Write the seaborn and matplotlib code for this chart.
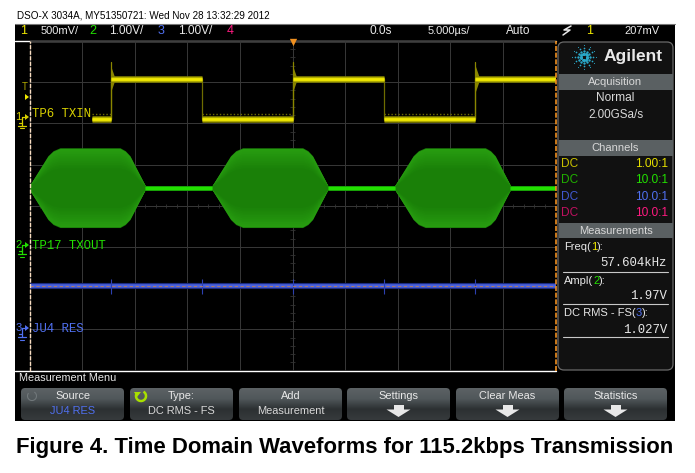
import numpy as np
import pandas as pd
import matplotlib
matplotlib.use("Agg")
import matplotlib.pyplot as plt
from matplotlib.patches import Rectangle, FancyBboxPatch, Polygon, Arc
from matplotlib.colors import to_rgb
import seaborn as sns

# --- Data (time in us, levels in screen divisions) ---
edge_times = [-17.3, -8.65, 0.0, 8.68, 17.36]
yellow_seg = [0, 0, 1, 1, 2, 2, 3, 3, 4, 4, 5, 5]
yellow_t = [-19.05, -17.3, -17.3, -8.65, -8.65, 0.0, 0.0, 8.68, 8.68, 17.36, 17.36, 25.0]
yellow_y = [2.10, 2.10, 3.08, 3.08, 2.10, 2.10, 3.08, 3.08, 2.10, 2.10, 3.08, 3.08]
spike_t = [-17.3, -17.3, 0.0, 0.0, 17.36, 17.36]
spike_y = [2.10, 3.50, 2.10, 3.50, 2.10, 3.50]
rise_times = [-17.3, 0.0, 17.36]
low_seg = [0, 0, 1, 1, 2, 2]
low_t = [-19.05, -17.3, -8.65, 0.0, 8.68, 17.36]
low_y = [2.10] * 6

green_center = 0.44
env_t = [-25.0, -23.25, -22.75, -22.1, -16.4, -15.9, -15.45, -14.0,
         -7.64, -5.89, -5.39, -4.74, 0.96, 1.46, 1.91, 3.36,
         9.72, 11.47, 11.97, 12.62, 18.32, 18.82, 19.27, 20.72, 25.0]
env_amp = [0.05, 0.76, 0.88, 0.95, 0.95, 0.88, 0.76, 0.05,
           0.05, 0.76, 0.88, 0.95, 0.95, 0.88, 0.76, 0.05,
           0.05, 0.76, 0.88, 0.95, 0.95, 0.88, 0.76, 0.05, 0.05]
flat_seg = [0, 0, 1, 1, 2, 2]
flat_t = [-14.0, -7.64, 3.36, 9.72, 20.72, 25.0]
flat_y = [0.44] * 6

blue_t = [-25.0, 25.0]
blue_y = [-1.96, -1.96]

channel_coupling = ["DC", "DC", "DC", "DC"]
channel_ratio = ["1.00:1", "10.0:1", "10.0:1", "10.0:1"]
softkeys_top = ["Source", "Type:", "Add", "Settings", "Clear Meas", "Statistics"]
softkeys_bottom = ["JU4 RES", "DC RMS - FS", "Measurement", None, None, None]

YELLOW = "#f0e800"
GREEN = "#22e000"
BLUE = "#5070f0"
PINK = "#ff1a80"
WHITE = "#e8e8e8"
SCOPE_FONT = ["Liberation Sans"]
MONO = ["Liberation Mono"]

sns.set_theme(style="white")
fig = plt.figure(figsize=(6.95, 4.73), dpi=100, facecolor="white")
W, H = 695.0, 473.0

# full figure axes in pixel units for the instrument frame
bg = fig.add_axes([0, 0, 1, 1], zorder=0)
bg.set_xlim(0, W)
bg.set_ylim(H, 0)
bg.axis("off")


def label(x, y, s, color=WHITE, size=8.0, ha="left", **kw):
    kw.setdefault("family", SCOPE_FONT)
    return bg.text(x, y, s, color=color, fontsize=size, ha=ha, va="center", **kw)


def chain(x, y, parts, size=8.0):
    # coloured pieces one after the other
    rend = fig.canvas.get_renderer()
    for s, c in parts:
        t = label(x, y, s, color=c, size=size)
        x = t.get_window_extent(rend).x1


bg.add_patch(Rectangle((15, 24), 660, 397, color="black", lw=0))
bg.plot([15, 675], [24.5, 24.5], color="#777777", lw=0.8)
bg.plot([15, 556], [41, 41], color="white", lw=1)
bg.plot([15, 556], [370.5, 370.5], color="white", lw=1)

# header row
label(17, 15, "DSO-X 3034A, MY51350721: Wed Nov 28 13:32:29 2012", color="black", size=7.1)
label(20, 31.5, "1", YELLOW, 9)
label(41, 31.5, "500mV/", size=8.0)
label(89, 31.5, "2", GREEN, 9)
label(109, 31.5, "1.00V/", size=8.6)
label(158, 31.5, "3", BLUE, 9)
label(178, 31.5, "1.00V/", size=8.6)
label(227, 31.5, "4", PINK, 9)
label(370, 31.5, "0.0s", size=8.6)
label(428, 31.5, "5.000\u00b5s/", size=8.0)
label(506, 31.5, "Auto", size=8.6)
label(586, 31.5, "1", YELLOW, 9)
label(624, 31.5, "207mV", size=8.0)
bg.plot([563, 570, 564, 571], [35, 30, 30, 26], color=WHITE, lw=1.1)

# channel labels and ground markers, text sits above the grid of the waveform axes
for y, ty, name, col, num in [(118, 114, "TP6 TXIN", "#d8d000", "1"), (246, 246, "TP17 TXOUT", GREEN, "2"),
                              (329, 329, "JU4 RES", BLUE, "3")]:
    fig.text(32 / W, 1 - ty / H, name, color=col, fontsize=8.9, family=MONO, va="center", ha="left")
    label(15.5, y - 1, num, col, 8)
    bg.plot([19, 22, 22, 26], [y + 5, y + 5, y - 1, y - 1], color=col, lw=0.9)
    bg.add_patch(Polygon([[25, y - 4], [29, y - 1], [25, y + 2]], color=col, lw=0))
    bg.plot([22, 22], [y + 5, y + 8], color=col, lw=0.9)
    bg.plot([18, 26], [y + 8, y + 8], color=col, lw=0.9)
    bg.plot([20, 24], [y + 10.5, y + 10.5], color=col, lw=0.8)
label(22, 87, "T", "#b0a800", 7)
bg.add_patch(Polygon([[25, 94], [29, 97], [25, 100]], color=YELLOW, lw=0))

# right panel
bg.add_patch(FancyBboxPatch((560, 44), 111, 324, boxstyle="round,pad=2,rounding_size=6",
                            fc="#111111", ec="#6a6a6a", lw=0.9))
for top, bottom, title in [(74, 90.5, "Acquisition"), (140, 156, "Channels"), (223, 238, "Measurements")]:
    bg.add_patch(Rectangle((559, top), 114, bottom - top, color="#5a6062", lw=0))
    label(615.5, (top + bottom) / 2, title, "#d8d8d8", 8.0, ha="center")
label(604, 57, "Agilent", "#e8e8e8", 12.5, weight="bold")

# logo spark
ang = np.arange(12) * np.pi / 6
for r, s in [(3, 4.5), (6, 3), (9, 1.5), (12, 0.6)]:
    bg.scatter(584 + r * np.cos(ang), 57 + r * np.sin(ang), s=s, color="#2aa8c8", lw=0)

label(615.5, 98, "Normal", "#d8d8d8", 8.6, ha="center")
label(615.5, 115, "2.00GSa/s", "#d8d8d8", 8.4, ha="center")

chan_cols = ["#e6e000", "#22e000", "#5070f0", "#ff1a80"]
coup_cols = ["#c8c000", "#20b000", "#4058d0", "#c01060"]
for i, yy in enumerate([164, 180, 197, 213]):
    label(561, yy, channel_coupling[i], coup_cols[i], 8.6)
    label(668, yy, channel_ratio[i], chan_cols[i], 8.6, ha="right")

chain(564, 247, [("Freq(", WHITE), ("1", YELLOW), ("):", WHITE)])
label(667, 263, "57.604kHz", size=8.9, ha="right", family=MONO)
chain(564, 281, [("Ampl(", WHITE), ("2", GREEN), ("):", WHITE)])
label(667, 296, "1.97V", size=8.9, ha="right", family=MONO)
chain(564, 313, [("DC RMS - FS(", WHITE), ("3", BLUE), ("):", WHITE)])
label(667, 330, "1.027V", size=8.9, ha="right", family=MONO)
for yy in [271.5, 304, 337]:
    bg.plot([563, 668], [yy, yy], color="#c8c8c8", lw=0.8)

# softkeys
label(19, 378, "Measurement Menu", size=7.8)
key_x = [21, 130, 239, 347, 456, 564]
grad = np.linspace(0, 1, 32).reshape(-1, 1)
key_cmap = plt.cm.colors.LinearSegmentedColormap.from_list("key", ["#5c6264", "#50575a", "#2c3032", "#363a3c"])
for i, x0 in enumerate(key_x):
    box = FancyBboxPatch((x0 + 2, 390), 99, 28, boxstyle="round,pad=2,rounding_size=4",
                         fc="none", ec="none", transform=bg.transData)
    bg.add_patch(box)
    im = bg.imshow(grad, extent=(x0, x0 + 103, 420, 388), cmap=key_cmap, aspect="auto", zorder=1)
    im.set_clip_path(box)
    cx = x0 + 51.5
    label(cx, 395.5, softkeys_top[i], size=7.9, ha="center", zorder=3)
    if softkeys_bottom[i] is not None:
        label(cx, 411, softkeys_bottom[i], BLUE if i == 0 else "#d8d8d8", 7.9, ha="center", zorder=3)
    else:
        bg.add_patch(Polygon([[cx - 12, 409.5], [cx + 12, 409.5], [cx, 417]], color="#e8e8e8", lw=0, zorder=3))
        bg.add_patch(Rectangle((cx - 5, 405), 10, 5, color="#e8e8e8", lw=0, zorder=3))
bg.set_xlim(0, W)
bg.set_ylim(H, 0)
bg.add_patch(Arc((141, 396), 10, 10, theta1=-60, theta2=220, color="#a8e000", lw=1.8, zorder=3))
bg.add_patch(Polygon([[134, 392], [141, 392], [137, 397]], color="#a8e000", lw=0, zorder=3))
bg.add_patch(Arc((32, 396), 9, 9, theta1=-60, theta2=220, color="#70777a", lw=0.8, zorder=3))

# caption
bg.text(16, 447, "Figure 4. Time Domain Waveforms for 115.2kbps Transmission", color="black",
        fontsize=15.9, family="Liberation Sans", weight="bold", ha="left", va="center")

# --- Waveform area ---
ax = fig.add_axes([29.5 / W, 1 - 370.5 / H, 526 / W, 329.5 / H], zorder=1)
ax.patch.set_alpha(0)
ax.set_xlim(-25, 25)
ax.set_ylim(-4, 4)
for s in ax.spines.values():
    s.set_visible(False)
ax.set_xticks(np.arange(-25, 26, 5))
ax.set_yticks(np.arange(-4, 5, 1))
ax.tick_params(length=0, labelbottom=False, labelleft=False)
ax.grid(True, color="#383838", lw=0.7)
ax.set_axisbelow(True)

# minor ticks on the centre lines, kept behind the traces
ax.vlines(np.arange(-25, 25.1, 1), -0.05, 0.05, color="#333333", lw=0.6, zorder=0.6)
ax.hlines(np.arange(-4, 4.1, 0.2), -0.2, 0.2, color="#333333", lw=0.6, zorder=0.6)

# yellow, channel 1
ydf = pd.DataFrame({"t": yellow_t, "v": yellow_y, "seg": yellow_seg})
sns.lineplot(x=yellow_t, y=yellow_y, sort=False, estimator=None, color="#6e6c00", lw=0.9, ax=ax, legend=False)
sns.lineplot(x=spike_t, y=spike_y, sort=False, estimator=None, units=[0, 0, 1, 1, 2, 2],
             color="#8a8600", lw=0.9, ax=ax, legend=False)
for t0 in rise_times:
    ax.fill_between([t0, t0 + 0.45], [2.75, 3.08], [3.41, 3.08], color="#8a8600", lw=0)
sns.lineplot(x=low_t, y=[v + 0.13 for v in low_y], units=low_seg, sort=False, estimator=None, color="#6e6c00",
             lw=1.0, ax=ax, legend=False, dashes=False, linestyle=(0, (1, 1.5)))
for lw, col in [(4.8, "#807e00"), (3.4, "#b4b000"), (2.0, YELLOW)]:
    sns.lineplot(data=ydf, x="t", y="v", units="seg", estimator=None, sort=False, color=col, lw=lw,
                 ax=ax, legend=False, solid_capstyle="butt")

# green, channel 2: nested bands, brighter near the edge, darker towards the middle
amp = np.array(env_amp)
rim, inner = np.array(to_rgb("#279c10")), np.array(to_rgb("#1a8008"))
ax.fill_between(env_t, green_center - 1.02 * amp, green_center + 1.02 * amp, color="#1a7a0a", lw=0)
for k in np.linspace(1.0, 0.5, 12):
    mix = (1.0 - k) / 0.5
    ax.fill_between(env_t, green_center - k * amp, green_center + k * amp, color=rim + (inner - rim) * mix, lw=0)
sns.lineplot(x=flat_t, y=flat_y, units=flat_seg, sort=False, estimator=None, color="#18a008", lw=3.6,
             ax=ax, legend=False, solid_capstyle="butt")
sns.lineplot(x=flat_t, y=flat_y, units=flat_seg, sort=False, estimator=None, color=GREEN, lw=2.2,
             ax=ax, legend=False, solid_capstyle="butt")

# blue, channel 3
for lw, col in [(4.4, "#1c2c80"), (2.6, "#4a62e0")]:
    sns.lineplot(x=blue_t, y=blue_y, estimator=None, sort=False, color=col, lw=lw, ax=ax, legend=False,
                 solid_capstyle="butt")
ax.vlines(edge_times, -2.15, -1.77, color="#2c40b0", lw=0.8)
ax.plot(blue_t, blue_y, color="#c08050", lw=0.6, ls=(0, (4, 3)))

# cursors and trigger mark
ax.axvline(-25, color="#f8dcc0", lw=1.0, ls=(0, (3, 1)), clip_on=False)
ax.axvline(25, color="#f09020", lw=1.2, ls=(0, (3, 1)), clip_on=False)
ax.scatter([0], [3.98], marker="v", s=28, color="#f09020", lw=0, clip_on=False, zorder=5)

fig.savefig("out.png", dpi=100, facecolor="white")
